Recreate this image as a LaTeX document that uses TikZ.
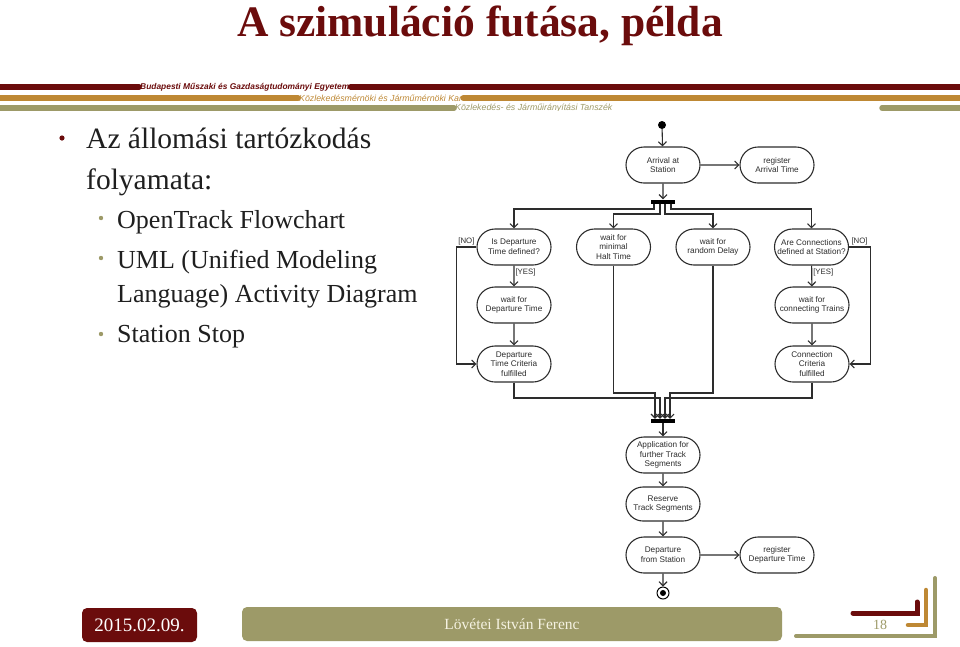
\documentclass[tikz,border=0pt]{standalone}
\usepackage{fontspec}
\setmainfont{Liberation Serif}
\newfontfamily\umlfont{Liberation Sans}
\usetikzlibrary{shapes.misc,positioning,arrows.meta,calc}
\definecolor{bmered}{RGB}{107,12,12}
\definecolor{bmeochre}{RGB}{190,136,52}
\definecolor{bmeolive}{RGB}{157,154,104}
\definecolor{umlline}{RGB}{45,45,45}
\definecolor{cream}{RGB}{245,242,225}
\tikzset{
	act/.style = { rounded rectangle, draw=umlline, line width=1.1pt, minimum width=76pt, minimum height=36pt, inner sep=1pt, align=center, text=umlline, font=\umlfont\fontsize{8.2}{9.6}\selectfont },
	syncbar/.style = { rectangle, fill=black, minimum width=24pt, minimum height=4pt, inner sep=0pt },
	startdot/.style = { circle, fill=black, minimum size=8pt, inner sep=0pt },
	stopdot/.style = { circle, draw=black, line width=1pt, minimum size=12pt, inner sep=0pt },
	flow/.style = { draw=umlline, line width=1.1pt, -{Straight Barb[length=4pt,width=8pt]} },
	guard/.style = { inner sep=1pt, text=umlline, font=\umlfont\fontsize{7.8}{9}\selectfont },
	stripe/.style = { line width=5.5pt, line cap=round },
	stripetxt/.style = { inner sep=1pt, anchor=west, font=\umlfont\itshape\fontsize{8.8}{9}\selectfont },
	item/.style = { anchor=base west, inner sep=0pt, text=black!88, font=\fontsize{29.5}{32}\selectfont },
	subitem/.style = { item, font=\fontsize{26}{28}\selectfont },
	foot/.style = { rounded corners=5pt, minimum height=34pt },
}

\begin{document}
\begin{tikzpicture}[x=1pt,y=-1pt]
\useasboundingbox (0,0) rectangle (960,646);
\fill[white] (0,0) rectangle (960,646);

% heading and stripes
\node (title) [anchor=base, text=bmered, font=\bfseries\fontsize{43.5}{48}\selectfont] at (480,36) {A szimuláció futása, példa};

\node (univ) [stripetxt, text=bmered, font=\umlfont\bfseries\itshape\fontsize{8.4}{9}\selectfont] at (139,87) {Budapesti Műszaki és Gazdaságtudományi Egyetem};
\node (fac)  [stripetxt, text=bmeochre] at (298,98) {Közlekedésmérnöki és Járműmérnöki Kar};
\node (dept) [stripetxt, text=bmeolive] at (454,108) {Közlekedés- és Járműirányítási Tanszék};
\draw[stripe,bmered]   (-5,87) -- (univ.west) (univ.east) -- (965,87);
\draw[stripe,bmeochre] (-5,98) -- (fac.west) (fac.east) -- (965,98);
\draw[stripe,bmeolive] (-5,108) -- (dept.west) (882,108) -- (965,108);
\fill[white] (446,111) rectangle (905,600);

% bullet list
\fill[bmered] (62,138) circle (2.6pt);
\node (it1) [item] at (86,148) {Az állomási tartózkodás};
\node (it2) [item] at (86,189) {folyamata:};
\foreach \y in {218,258,334} \fill[bmeolive] (101,\y) circle (2.2pt);
\node (sub1) [subitem] at (117,228) {OpenTrack Flowchart};
\node (sub2) [subitem] at (117,268) {UML (Unified Modeling};
\node (sub3) [subitem] at (117,302) {Language) Activity Diagram};
\node (sub4) [subitem] at (117,342) {Station Stop};

% activity diagram
\node (init)    [startdot] at (662,125) {};
\node (arrive)  [act] at (663,165)   {Arrival at\\Station};
\node (regarr)  [act] at (777,165)   {register\\Arrival Time};
\node (fork)    [syncbar] at (663,201.5) {};
\node (isdep)   [act] at (514,247)   {Is Departure\\Time defined?};
\node (halt)    [act] at (613.5,247) {wait for\\minimal\\Halt Time};
\node (delay)   [act] at (713,247)   {wait for\\random Delay};
\node (iscon)   [act] at (811.5,247) {Are Connections\\defined at Station?};
\node (waitdep) [act] at (514,305)   {wait for\\Departure Time};
\node (depcrit) [act] at (514,364)   {Departure\\Time Criteria\\fulfilled};
\node (waitcon) [act] at (812,305)   {wait for\\connecting Trains};
\node (concrit) [act] at (812,364)   {Connection\\Criteria\\fulfilled};
\node (join)    [syncbar] at (663,421) {};
\node (apply)   [act] at (663,455)   {Application for\\further Track\\Segments};
\node (reserve) [act,minimum height=34pt] at (663,504) {Reserve\\Track Segments};
\node (depart)  [act] at (663,555)   {Departure\\from Station};
\node (regdep)  [act] at (777,555)   {register\\Departure Time};
\node (final)   [stopdot] at (663,593) {};
\fill (final.center) circle (3pt);

\draw[flow] (init) -- (arrive);
\draw[flow] (arrive) -- (regarr);
\draw[flow] (arrive) -- (fork);

\coordinate (fhi) at (663,209);
\coordinate (flo) at (663,214);
\draw[flow] ([xshift=-9pt]fork.south) -- ([xshift=-9pt]fhi) -| (isdep.north);
\draw[flow] ([xshift=-3pt]fork.south) -- ([xshift=-3pt]flo) -| (halt.north);
\draw[flow] ([xshift=2pt]fork.south)  -- ([xshift=2pt]flo)  -| (delay.north);
\draw[flow] ([xshift=8pt]fork.south)  -- ([xshift=8pt]fhi)  -| (iscon.north);

\draw[flow] (isdep) -- node[guard,right,pos=0.35] {[YES]} (waitdep);
\draw[flow] (waitdep) -- (depcrit);
\draw[flow] (isdep.west) -- ++(-20,0) node[guard,midway,above] {[NO]} |- (depcrit.west);

\draw[flow] (iscon) -- node[guard,right,pos=0.35] {[YES]} (waitcon);
\draw[flow] (waitcon) -- (concrit);
\draw[flow] (iscon.east) -- ++(21,0) node[guard,midway,above] {[NO]} |- (concrit.east);

\coordinate (jhi) at (663,393);
\coordinate (jlo) at (663,398);
\draw[flow] (halt.south)    |- ([xshift=-8pt]jhi) -- ([xshift=-8pt]join.north);
\draw[flow] (depcrit.south) |- ([xshift=-3pt]jlo) -- ([xshift=-3pt]join.north);
\draw[flow] (concrit.south) |- ([xshift=2pt]jlo)  -- ([xshift=2pt]join.north);
\draw[flow] (delay.south)   |- ([xshift=7pt]jhi)  -- ([xshift=7pt]join.north);

\draw[flow] (join) -- (apply);
\draw[flow] (apply) -- (reserve);
\draw[flow] (reserve) -- (depart);
\draw[flow] (depart) -- (regdep);
\draw[flow] (depart) -- (final);

% footer
\node (date)   [foot, fill=bmered, minimum width=115pt, text=white, font=\fontsize{19}{21}\selectfont] at (139.5,625) {2015.02.09.};
\node (author) [foot, fill=bmeolive, minimum width=540pt, text=cream, font=\fontsize{15.5}{17}\selectfont] at (512,624) {Lövétei István Ferenc};
\node (page)   [text=bmeolive, font=\fontsize{14}{16}\selectfont] at (880,625) {18};
\draw[bmeolive, line width=4pt, line cap=round] (796,636) -- (935,636) -- (935,578);
\draw[bmeochre, line width=4.5pt, line cap=round] (908,625) -- (926,625) -- (926,590);
\draw[bmered, line width=5pt, line cap=round] (853,613) -- (917,613) -- (917,602);
\end{tikzpicture}
\end{document}
